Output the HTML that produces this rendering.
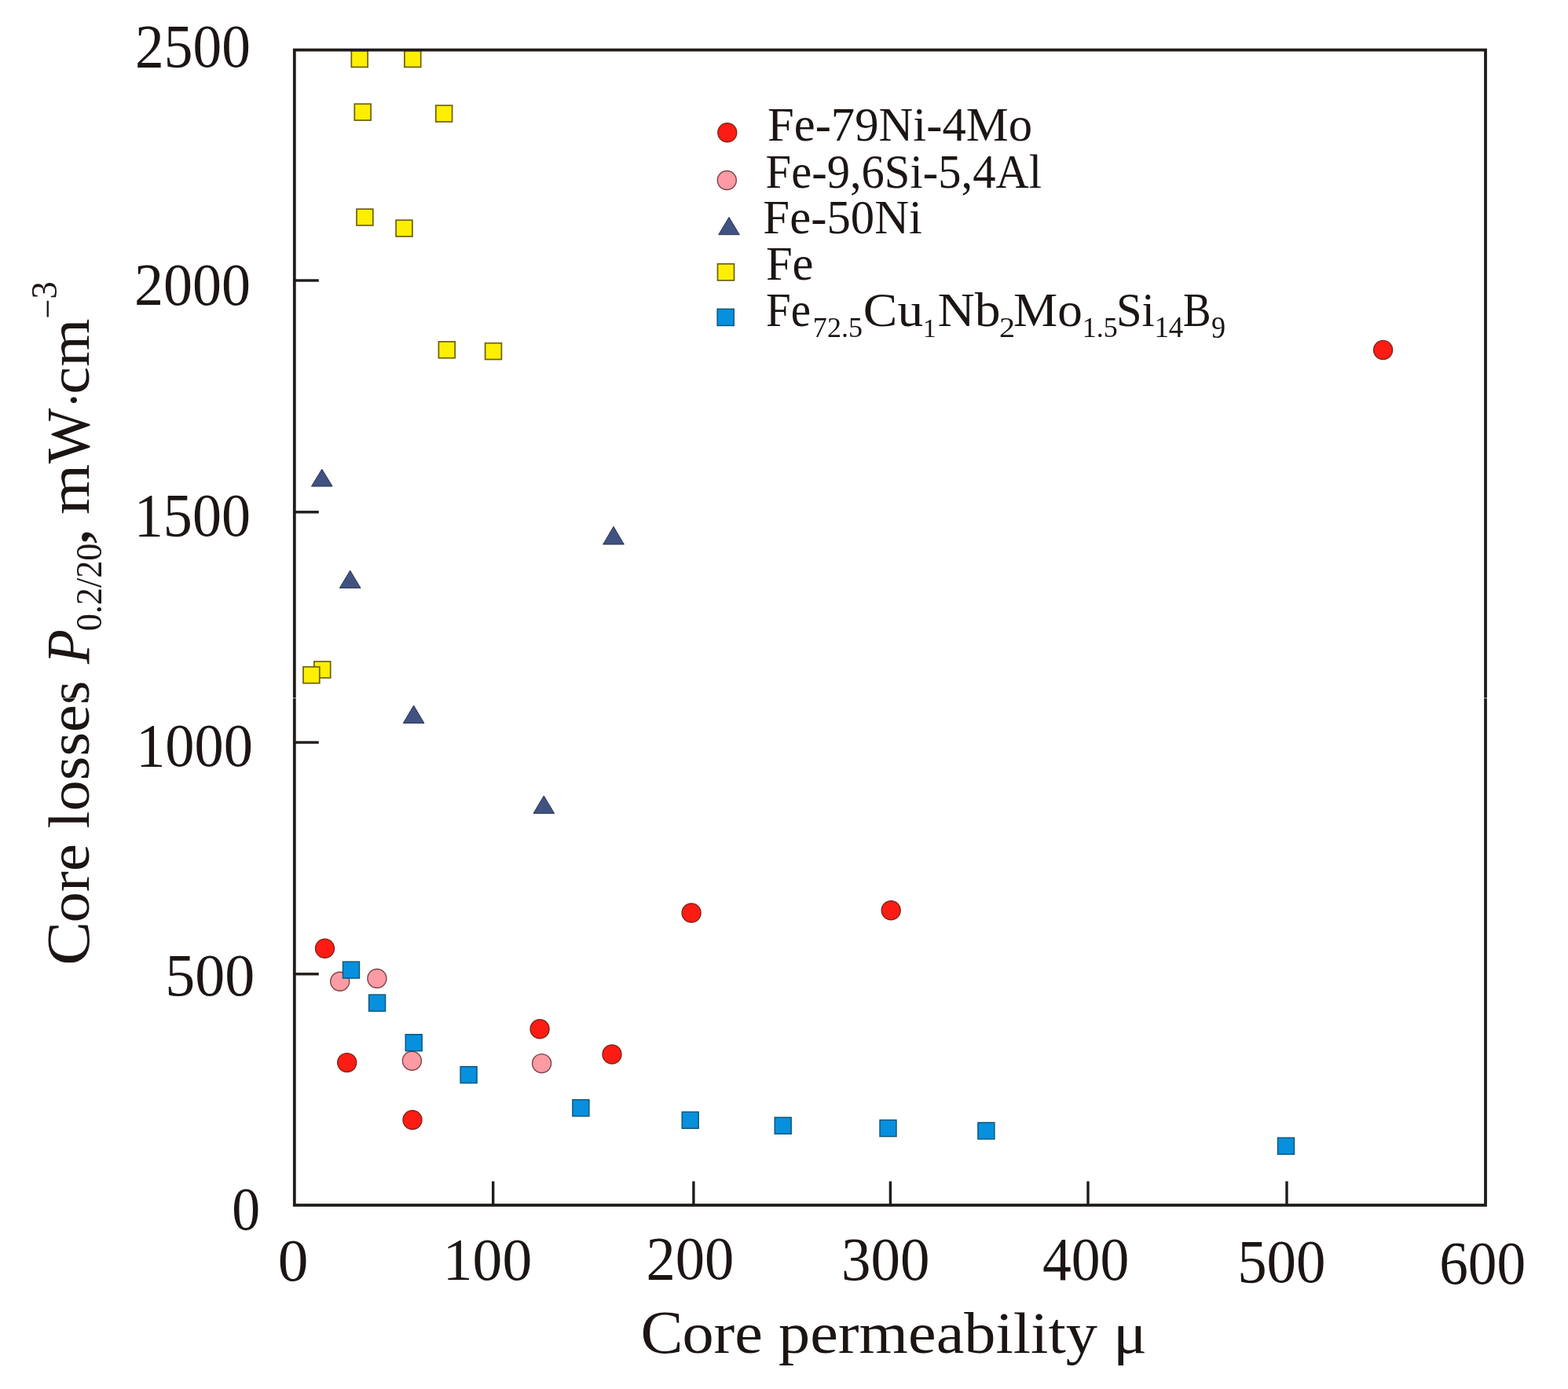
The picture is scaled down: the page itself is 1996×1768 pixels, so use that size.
<!DOCTYPE html><html><head><meta charset="utf-8"><title>Core losses vs permeability</title>
<style>html,body{margin:0;padding:0;background:#fff;}svg{display:block;}text{font-family:'Liberation Serif', 'Times New Roman', serif;fill:#1b1513;}</style></head><body>
<svg width="1996" height="1768" viewBox="0 0 1996 1768">
<rect width="1996" height="1768" fill="#fff"/>
<g id="markers"><rect x="447.3" y="64.6" width="20.8" height="20.8" fill="#fcef00" stroke="#6e600c" stroke-width="1.7"/><rect x="514.9" y="64.6" width="20.8" height="20.8" fill="#fcef00" stroke="#6e600c" stroke-width="1.7"/><rect x="451.3" y="132.3" width="20.8" height="20.8" fill="#fcef00" stroke="#6e600c" stroke-width="1.7"/><rect x="554.8" y="134.2" width="20.8" height="20.8" fill="#fcef00" stroke="#6e600c" stroke-width="1.7"/><rect x="454.0" y="266.1" width="20.8" height="20.8" fill="#fcef00" stroke="#6e600c" stroke-width="1.7"/><rect x="504.1" y="280.2" width="20.8" height="20.8" fill="#fcef00" stroke="#6e600c" stroke-width="1.7"/><rect x="558.4" y="434.9" width="20.8" height="20.8" fill="#fcef00" stroke="#6e600c" stroke-width="1.7"/><rect x="617.6" y="436.7" width="20.8" height="20.8" fill="#fcef00" stroke="#6e600c" stroke-width="1.7"/><rect x="399.9" y="842.0" width="20.8" height="20.8" fill="#fcef00" stroke="#6e600c" stroke-width="1.7"/><rect x="386.0" y="848.8" width="20.8" height="20.8" fill="#fcef00" stroke="#6e600c" stroke-width="1.7"/><polygon points="409.8,597.2 423.1,619.0 396.5,619.0" fill="#405281" stroke="#2b3352" stroke-width="1"/><polygon points="781.0,670.2 794.3,692.9 767.7,692.9" fill="#405281" stroke="#2b3352" stroke-width="1"/><polygon points="445.7,726.2 459.0,748.4 432.4,748.4" fill="#405281" stroke="#2b3352" stroke-width="1"/><polygon points="526.6,898.0 539.9,920.4 513.3,920.4" fill="#405281" stroke="#2b3352" stroke-width="1"/><polygon points="692.3,1013.0 705.6,1035.3 679.0,1035.3" fill="#405281" stroke="#2b3352" stroke-width="1"/><circle cx="1760.6" cy="445.4" r="12.0" fill="#fd1c14" stroke="#86241a" stroke-width="1.4"/><circle cx="880.1" cy="1162.0" r="12.0" fill="#fd1c14" stroke="#86241a" stroke-width="1.4"/><circle cx="1134.2" cy="1158.7" r="12.0" fill="#fd1c14" stroke="#86241a" stroke-width="1.4"/><circle cx="413.5" cy="1207.3" r="12.0" fill="#fd1c14" stroke="#86241a" stroke-width="1.4"/><circle cx="687.1" cy="1309.8" r="12.0" fill="#fd1c14" stroke="#86241a" stroke-width="1.4"/><circle cx="779.0" cy="1342.0" r="12.0" fill="#fd1c14" stroke="#86241a" stroke-width="1.4"/><circle cx="441.7" cy="1352.6" r="12.0" fill="#fd1c14" stroke="#86241a" stroke-width="1.4"/><circle cx="525.0" cy="1425.5" r="12.0" fill="#fd1c14" stroke="#86241a" stroke-width="1.4"/><circle cx="432.7" cy="1249.3" r="12.0" fill="#fd9ba4" stroke="#7e4246" stroke-width="1.4"/><circle cx="479.9" cy="1245.5" r="12.0" fill="#fd9ba4" stroke="#7e4246" stroke-width="1.4"/><circle cx="524.4" cy="1350.3" r="12.0" fill="#fd9ba4" stroke="#7e4246" stroke-width="1.4"/><circle cx="689.6" cy="1353.6" r="12.0" fill="#fd9ba4" stroke="#7e4246" stroke-width="1.4"/><rect x="436.5" y="1224.1" width="21.0" height="21.0" fill="#0690de" stroke="#0b5374" stroke-width="1.4"/><rect x="469.6" y="1266.1" width="21.0" height="21.0" fill="#0690de" stroke="#0b5374" stroke-width="1.4"/><rect x="516.2" y="1316.7" width="21.0" height="21.0" fill="#0690de" stroke="#0b5374" stroke-width="1.4"/><rect x="586.1" y="1357.6" width="21.0" height="21.0" fill="#0690de" stroke="#0b5374" stroke-width="1.4"/><rect x="728.9" y="1399.8" width="21.0" height="21.0" fill="#0690de" stroke="#0b5374" stroke-width="1.4"/><rect x="868.2" y="1415.3" width="21.0" height="21.0" fill="#0690de" stroke="#0b5374" stroke-width="1.4"/><rect x="986.2" y="1422.3" width="21.0" height="21.0" fill="#0690de" stroke="#0b5374" stroke-width="1.4"/><rect x="1120.0" y="1425.6" width="21.0" height="21.0" fill="#0690de" stroke="#0b5374" stroke-width="1.4"/><rect x="1244.9" y="1428.9" width="21.0" height="21.0" fill="#0690de" stroke="#0b5374" stroke-width="1.4"/><rect x="1626.5" y="1448.2" width="21.0" height="21.0" fill="#0690de" stroke="#0b5374" stroke-width="1.4"/></g>
<g id="axes"><rect x="374.8" y="63.6" width="1516.2" height="1470.4" fill="none" stroke="#201c1a" stroke-width="3.8"/><line x1="627.7" y1="1534.0" x2="627.7" y2="1503.6" stroke="#201c1a" stroke-width="3.4"/><line x1="882.9" y1="1534.0" x2="882.9" y2="1503.6" stroke="#201c1a" stroke-width="3.4"/><line x1="1133.4" y1="1534.0" x2="1133.4" y2="1503.6" stroke="#201c1a" stroke-width="3.4"/><line x1="1385.0" y1="1534.0" x2="1385.0" y2="1503.6" stroke="#201c1a" stroke-width="3.4"/><line x1="1638.0" y1="1534.0" x2="1638.0" y2="1503.6" stroke="#201c1a" stroke-width="3.4"/><line x1="374.8" y1="1239.8" x2="405.8" y2="1239.8" stroke="#201c1a" stroke-width="3.4"/><line x1="374.8" y1="945.0" x2="405.8" y2="945.0" stroke="#201c1a" stroke-width="3.4"/><line x1="374.8" y1="651.8" x2="405.8" y2="651.8" stroke="#201c1a" stroke-width="3.4"/><line x1="374.8" y1="357.0" x2="405.8" y2="357.0" stroke="#201c1a" stroke-width="3.4"/></g>
<g id="legend"><circle cx="925.8" cy="168.7" r="12.0" fill="#fd1c14" stroke="#86241a" stroke-width="1.4"/><circle cx="925.3" cy="229.5" r="12.0" fill="#fd9ba4" stroke="#7e4246" stroke-width="1.4"/><polygon points="928.0,276.5 941.3,298.7 914.7,298.7" fill="#405281" stroke="#2b3352" stroke-width="1"/><rect x="913.5" y="335.9" width="21.0" height="21.0" fill="#fcef00" stroke="#6e600c" stroke-width="1.7"/><rect x="913.1" y="393.3" width="21.2" height="21.2" fill="#0690de" stroke="#0b5374" stroke-width="1.4"/></g>
<g id="texts"><text id="y2500" x="172.07" y="84.58" font-size="78.55" textLength="146.86" lengthAdjust="spacingAndGlyphs">2500</text><text id="y2000" x="171.04" y="387.59" font-size="76.16" textLength="148.11" lengthAdjust="spacingAndGlyphs">2000</text><text id="y1500" x="170.75" y="681.99" font-size="78.08" textLength="148.28" lengthAdjust="spacingAndGlyphs">1500</text><text id="y1000" x="173.17" y="974.98" font-size="78.08" textLength="148.86" lengthAdjust="spacingAndGlyphs">1000</text><text id="y500" x="210.29" y="1267.18" font-size="77.09" textLength="114.10" lengthAdjust="spacingAndGlyphs">500</text><text id="y0" x="295.34" y="1564.93" font-size="77.33" textLength="35.87" lengthAdjust="spacingAndGlyphs">0</text><text id="x0" x="353.78" y="1629.99" font-size="76.16" textLength="38.71" lengthAdjust="spacingAndGlyphs">0</text><text id="x100" x="563.80" y="1628.99" font-size="77.09" textLength="113.44" lengthAdjust="spacingAndGlyphs">100</text><text id="x200" x="822.38" y="1627.57" font-size="79.14" textLength="111.96" lengthAdjust="spacingAndGlyphs">200</text><text id="x300" x="1070.98" y="1629.39" font-size="77.37" textLength="112.38" lengthAdjust="spacingAndGlyphs">300</text><text id="x400" x="1326.92" y="1629.39" font-size="77.37" textLength="110.39" lengthAdjust="spacingAndGlyphs">400</text><text id="x500" x="1575.14" y="1631.98" font-size="77.37" textLength="112.44" lengthAdjust="spacingAndGlyphs">500</text><text id="x600" x="1832.23" y="1634.23" font-size="78.99" textLength="109.95" lengthAdjust="spacingAndGlyphs">600</text><text id="xt1" x="815.60" y="1721.70" font-size="77.33" textLength="54.07" lengthAdjust="spacingAndGlyphs">C</text><text id="xt2" x="868.47" y="1721.70" font-size="73.00" textLength="591.56" lengthAdjust="spacingAndGlyphs">ore permeability μ</text><text id="l1" x="976.98" y="178.50" font-size="61.09" textLength="337.05" lengthAdjust="spacingAndGlyphs">Fe-79Ni-4Mo</text><text id="l2" x="974.58" y="239.30" font-size="60.63" textLength="351.43" lengthAdjust="spacingAndGlyphs">Fe-9,6Si-5,4Al</text><text id="l3" x="971.37" y="296.80" font-size="61.09" textLength="202.64" lengthAdjust="spacingAndGlyphs">Fe-50Ni</text><text id="l4" x="974.88" y="355.90" font-size="60.63" textLength="60.65" lengthAdjust="spacingAndGlyphs">Fe</text><text id="f1" x="975.11" y="415.30" font-size="61.24" textLength="57.01" lengthAdjust="spacingAndGlyphs">Fe</text><text id="f2" x="1034.89" y="428.60" font-size="35.56" textLength="63.16" lengthAdjust="spacingAndGlyphs">72.5</text><text id="f3" x="1098.86" y="415.30" font-size="61.24" textLength="76.19" lengthAdjust="spacingAndGlyphs">Cu</text><text id="f4" x="1175.09" y="429.40" font-size="33.92" textLength="16.72" lengthAdjust="spacingAndGlyphs">1</text><text id="f5" x="1193.47" y="415.30" font-size="61.24" textLength="80.09" lengthAdjust="spacingAndGlyphs">Nb</text><text id="f6" x="1271.96" y="429.44" font-size="34.78" textLength="20.12" lengthAdjust="spacingAndGlyphs">2</text><text id="f7" x="1290.08" y="415.30" font-size="61.24" textLength="87.86" lengthAdjust="spacingAndGlyphs">Mo</text><text id="f8" x="1377.75" y="429.40" font-size="35.56" textLength="44.85" lengthAdjust="spacingAndGlyphs">1.5</text><text id="f9" x="1421.00" y="415.30" font-size="61.24" textLength="48.90" lengthAdjust="spacingAndGlyphs">Si</text><text id="f10" x="1469.38" y="429.41" font-size="38.62" textLength="36.94" lengthAdjust="spacingAndGlyphs">14</text><text id="f11" x="1506.01" y="415.30" font-size="61.24" textLength="35.53" lengthAdjust="spacingAndGlyphs">B</text><text id="f12" x="1541.91" y="430.40" font-size="40.06" textLength="18.03" lengthAdjust="spacingAndGlyphs">9</text></g>
<g id="rtexts" transform="rotate(-90)"><text id="r1a" x="-1228.66" y="112.50" font-size="77.33" textLength="55.82" lengthAdjust="spacingAndGlyphs">C</text><text id="r1b" x="-1174.55" y="112.50" font-size="73.00" textLength="308.11" lengthAdjust="spacingAndGlyphs">ore losses</text><text id="r2" x="-845.02" y="113.19" font-size="78.01" textLength="43.70" lengthAdjust="spacingAndGlyphs" font-style="italic">P</text><text id="r3" x="-803.27" y="128.81" font-size="47.18" textLength="111.52" lengthAdjust="spacingAndGlyphs">0.2/20</text><text id="r4" x="-694.46" y="112.00" font-size="76.40" textLength="22.87" lengthAdjust="spacingAndGlyphs">,</text><text id="r5a" x="-655.14" y="112.50" font-size="73.00" textLength="64.24" lengthAdjust="spacingAndGlyphs">m</text><text id="r5b" x="-590.01" y="112.50" font-size="77.58" textLength="70.51" lengthAdjust="spacingAndGlyphs">W</text><text id="r6" x="-519.84" y="116.81" font-size="69.45" textLength="21.07" lengthAdjust="spacingAndGlyphs">·</text><text id="r7" x="-501.73" y="112.50" font-size="73.00" textLength="96.00" lengthAdjust="spacingAndGlyphs">cm</text><text id="r8" x="-405.71" y="72.21" font-size="46.54" textLength="47.32" lengthAdjust="spacingAndGlyphs"><tspan dy="3.9">−</tspan><tspan dy="-3.9">3</tspan></text></g>
<rect x="0" y="888.2" width="1996" height="0.9" fill="#fff" fill-opacity="0.75"/>
</svg></body></html>
